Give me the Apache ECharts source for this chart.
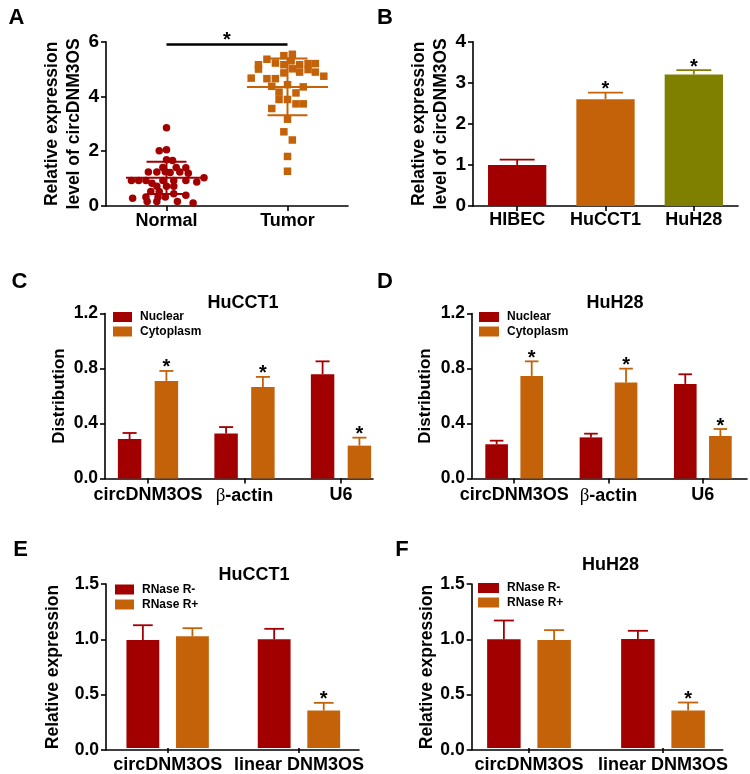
<!DOCTYPE html>
<html><head><meta charset="utf-8">
<script src="https://cdn.jsdelivr.net/npm/echarts@6/dist/echarts.min.js"></script>
<style>html,body{margin:0;padding:0;background:#fff}#c{width:750px;height:774px}</style>
</head><body><div id="c"></div>
<script>
// ---------------- DATA ----------------
// Panel A: [jitter offset from group centre (axis units), value]
const groupsA = ['Normal', 'Tumor'];
const normalPoints = [
  [0, 2.86], [-0.06, 2.02], [0, 2.05], [0, 1.69], [0.05, 1.66], [-0.03, 1.41], [0.08, 1.41], [0.16, 1.40],
  [-0.15, 1.24], [-0.08, 1.24], [-0.01, 1.25], [0.03, 1.22], [0.11, 1.24], [0.18, 1.20],
  [-0.29, 0.93], [-0.23, 0.93], [-0.17, 0.93], [-0.12, 0.83], [-0.03, 0.93], [0.06, 0.93], [0.16, 0.93], [0.25, 0.88], [0.31, 1.03],
  [-0.08, 0.72], [0, 0.72], [0.06, 0.72], [-0.06, 0.53], [-0.13, 0.53], [0.06, 0.45],
  [-0.17, 0.33], [-0.07, 0.33], [-0.01, 0.33], [0.16, 0.39], [-0.28, 0.28],
  [-0.16, 0.16], [-0.08, 0.16], [0.09, 0.16], [0.22, 0.11]
];
const tumorPoints = [
  [-0.24, 5.16], [-0.24, 5.00], [-0.17, 5.36], [-0.10, 5.22], [-0.03, 5.49], [0.04, 5.54], [0.03, 5.30],
  [-0.03, 5.16], [-0.03, 4.86], [0.04, 5.01], [0.10, 5.16], [0.10, 4.89], [0.17, 5.20], [0.17, 4.98],
  [0.23, 5.20], [0.23, 4.89], [0.30, 4.74], [-0.30, 4.67], [-0.17, 4.65], [-0.10, 4.65], [-0.13, 4.37],
  [0, 4.43], [0.13, 4.35], [-0.07, 4.16], [0.07, 4.13], [-0.07, 3.89], [0, 3.89], [0.07, 3.73], [0.13, 3.73],
  [-0.13, 3.56], [0, 3.17], [-0.03, 2.71], [0.04, 2.41], [0, 1.81], [0, 1.27]
];
const meanA = [1.03, 4.35];
const sdA = [0.59, 1.04];
const sigLevelA = 5.9;

// Panel B
const cellLinesB = ['HIBEC', 'HuCCT1', 'HuH28'];
const valuesB = [1.00, 2.60, 3.20];
const errorsB = [0.13, 0.16, 0.11];
const starsB = [0, 1, 1];

// Panels C / D
const genesCD = ['circDNM3OS', 'β-actin', 'U6'];
const nuclearC = [0.287, 0.328, 0.758];
const nuclearErrC = [0.044, 0.046, 0.094];
const cytoC = [0.710, 0.666, 0.239];
const cytoErrC = [0.072, 0.073, 0.058];
const nuclearD = [0.249, 0.299, 0.688];
const nuclearErrD = [0.026, 0.027, 0.070];
const cytoD = [0.746, 0.698, 0.309];
const cytoErrD = [0.106, 0.101, 0.051];
const starsCyto = [1, 1, 1];
const starsNone3 = [0, 0, 0];

// Panels E / F
const transcriptsEF = ['circDNM3OS', 'linear DNM3OS'];
const minusE = [0.988, 0.994];
const minusErrE = [0.135, 0.096];
const plusE = [1.021, 0.343];
const plusErrE = [0.075, 0.070];
const minusF = [0.994, 0.997];
const minusErrF = [0.172, 0.075];
const plusF = [0.988, 0.343];
const plusErrF = [0.090, 0.073];
const starsPlus = [0, 1];
const starsNone2 = [0, 0];

// ---------------- STYLE ----------------
const FONT = '"Liberation Sans", Arial, Helvetica, sans-serif';
const RED = '#A20000';
const ORANGE = '#C4620A';
const OLIVE = '#808000';
const AX = {color: '#000', width: 1.6};

const option = {animation: false, backgroundColor: '#fff', grid: [], xAxis: [], yAxis: [], series: [], legend: [], graphic: []};

function txt(text, x, y, size, extra) {
  return Object.assign({type: 'text', x: 0, y: 0, silent: true, style: {
    text, x, y, fill: '#000', font: `bold ${size}px ${FONT}`,
    textAlign: 'center', align: 'center', textVerticalAlign: 'middle', verticalAlign: 'middle'}}, extra || {});
}

function errSeries(xi, yi, data, k, n, bwFrac, gapFrac, color) {
  return {
    type: 'custom', xAxisIndex: xi, yAxisIndex: yi, data, z: 5, silent: true,
    renderItem(params, api) {
      const cat = api.value(0), v = api.value(1), e = api.value(2), star = api.value(3);
      const band = api.size([1, 0])[0];
      const bw = band * bwFrac, gap = bw * gapFrac;
      const total = n * bw + (n - 1) * gap;
      const cx = api.coord([cat, 0])[0] - total / 2 + bw / 2 + k * (bw + gap);
      const y1 = api.coord([cat, v])[1], y2 = api.coord([cat, v + e])[1];
      const half = bw * 0.3;
      const ls = {stroke: color, lineWidth: 1.8};
      const children = [
        {type: 'line', shape: {x1: cx, y1: y1, x2: cx, y2: y2}, style: ls},
        {type: 'line', shape: {x1: cx - half, y1: y2, x2: cx + half, y2: y2}, style: ls}
      ];
      if (star) children.push({type: 'text', style: {text: '*', x: cx, y: y2 - 3, fill: '#000',
        font: `bold 20px ${FONT}`, textAlign: 'center', align: 'center', textVerticalAlign: 'middle', verticalAlign: 'middle'}});
      return {type: 'group', children};
    }
  };
}

function yAxisBase(c, gridIndex) {
  return {
    gridIndex, type: 'value', min: c.yMin, max: c.yMax, interval: c.yInt,
    axisLine: {show: true, onZero: false, lineStyle: AX},
    axisTick: {show: true, inside: false, length: 5, lineStyle: AX},
    axisLabel: {color: '#000', fontFamily: FONT, fontWeight: 'bold', fontSize: c.tickFont, margin: 7,
      formatter: v => v.toFixed(c.dec)},
    splitLine: {show: false},
    name: c.yName, nameLocation: 'middle', nameGap: c.nameGap, nameRotate: 90,
    nameTextStyle: {color: '#000', fontFamily: FONT, fontWeight: 'bold', fontSize: c.nameFont, lineHeight: c.nameLH}
  };
}

// ---------- Panel A ----------
(function () {
  const g = option.grid.length;
  option.grid.push({left: 106, top: 41.7, width: 242, height: 164.3});
  const xi = option.xAxis.length;
  option.xAxis.push({gridIndex: g, type: 'value', min: -0.5, max: 1.5,
    axisLine: {show: true, onZero: false, lineStyle: AX},
    axisTick: {show: true, length: 5, lineStyle: AX, customValues: [0, 1]},
    axisLabel: {customValues: [0, 1], color: '#000', fontFamily: FONT, fontWeight: 'bold', fontSize: 18, margin: 6,
      formatter: v => groupsA[Math.round(v)]},
    splitLine: {show: false}});
  const yi = option.yAxis.length;
  option.yAxis.push(yAxisBase({yMin: 0, yMax: 6, yInt: 2, dec: 0, tickFont: 19, nameFont: 17.5, nameLH: 21.5,
    yName: 'Relative expression\nlevel of circDNM3OS', nameGap: 20}, g));
  option.series.push({type: 'scatter', xAxisIndex: xi, yAxisIndex: yi, symbol: 'circle', symbolSize: 7.5,
    itemStyle: {color: RED, opacity: 1}, data: normalPoints.map(p => [0 + p[0], p[1]]), z: 3});
  option.series.push({type: 'scatter', xAxisIndex: xi, yAxisIndex: yi, symbol: 'rect', symbolSize: 7.5,
    itemStyle: {color: ORANGE, opacity: 1}, data: tumorPoints.map(p => [1 + p[0], p[1]]), z: 3});
  const colorsA = [RED, ORANGE];
  option.series.push({type: 'custom', xAxisIndex: xi, yAxisIndex: yi, z: 4, silent: true,
    data: meanA.map((m, i) => [i, m, sdA[i]]),
    renderItem(params, api) {
      const i = api.value(0), m = api.value(1), s = api.value(2);
      const unit = api.size([1, 0])[0];
      const c = api.coord([i, m]);
      const yHi = api.coord([i, m + s])[1], yLo = api.coord([i, m - s])[1];
      const st = {stroke: colorsA[params.dataIndex], lineWidth: 2};
      const wm = unit * 0.335, ws = unit * 0.165;
      return {type: 'group', children: [
        {type: 'line', shape: {x1: c[0] - wm, y1: c[1], x2: c[0] + wm, y2: c[1]}, style: st},
        {type: 'line', shape: {x1: c[0], y1: yHi, x2: c[0], y2: yLo}, style: st},
        {type: 'line', shape: {x1: c[0] - ws, y1: yHi, x2: c[0] + ws, y2: yHi}, style: st},
        {type: 'line', shape: {x1: c[0] - ws, y1: yLo, x2: c[0] + ws, y2: yLo}, style: st}
      ]};
    }});
  option.series.push({type: 'custom', xAxisIndex: xi, yAxisIndex: yi, z: 4, silent: true,
    data: [[0, 1, sigLevelA]],
    renderItem(params, api) {
      const a = api.coord([api.value(0), api.value(2)]);
      const b = api.coord([api.value(1), api.value(2)]);
      return {type: 'group', children: [
        {type: 'line', shape: {x1: a[0], y1: a[1], x2: b[0], y2: b[1]}, style: {stroke: '#000', lineWidth: 2.5}},
        {type: 'text', style: {text: '*', x: (a[0] + b[0]) / 2, y: a[1] - 4, fill: '#000', font: `bold 20px ${FONT}`,
          textAlign: 'center', align: 'center', textVerticalAlign: 'middle', verticalAlign: 'middle'}}
      ]};
    }});
})();

// ---------- Panel B ----------
(function () {
  const g = option.grid.length;
  option.grid.push({left: 473, top: 41.7, width: 265, height: 164.3});
  const xi = option.xAxis.length;
  option.xAxis.push({gridIndex: g, type: 'category', data: cellLinesB,
    axisLine: {show: true, lineStyle: AX},
    axisTick: {show: true, alignWithLabel: true, length: 5, lineStyle: AX},
    axisLabel: {interval: 0, color: '#000', fontFamily: FONT, fontWeight: 'bold', fontSize: 18, margin: 5},
    splitLine: {show: false}});
  const yi = option.yAxis.length;
  option.yAxis.push(yAxisBase({yMin: 0, yMax: 4, yInt: 1, dec: 0, tickFont: 19, nameFont: 17.5, nameLH: 21.5,
    yName: 'Relative expression\nlevel of circDNM3OS', nameGap: 19}, g));
  const colorsB = [RED, ORANGE, OLIVE];
  option.series.push({type: 'bar', xAxisIndex: xi, yAxisIndex: yi, barWidth: '66%',
    data: valuesB.map((v, i) => ({value: v, itemStyle: {color: colorsB[i]}}))});
  const s = errSeries(xi, yi, valuesB.map((v, i) => [i, v, errorsB[i], starsB[i]]), 0, 1, 0.66, 0, RED);
  const base = s.renderItem;
  s.renderItem = function (params, api) {
    const out = base(params, api);
    const col = colorsB[params.dataIndex];
    out.children[0].style.stroke = col; out.children[1].style.stroke = col;
    return out;
  };
  option.series.push(s);
})();

// ---------- Bar panels C–F ----------
function addBarPanel(c) {
  const gF = option.grid.length;
  option.grid.push({left: c.axisL, top: c.top, width: c.axisR - c.axisL, height: c.h});
  const xF = option.xAxis.length;
  option.xAxis.push({gridIndex: gF, type: 'value', min: 0, max: 1,
    axisLine: {show: true, onZero: false, lineStyle: AX}, axisTick: {show: false}, axisLabel: {show: false}, splitLine: {show: false}});
  const yF = option.yAxis.length;
  option.yAxis.push(yAxisBase(c, gF));
  const gD = option.grid.length;
  option.grid.push({left: c.dataL, top: c.top, width: c.dataW, height: c.h});
  const xD = option.xAxis.length;
  option.xAxis.push({gridIndex: gD, type: 'category', data: c.cats,
    axisLine: {show: false}, axisTick: {show: true, alignWithLabel: true, length: 5, lineStyle: AX},
    axisLabel: {interval: 0, color: '#000', fontFamily: FONT, fontWeight: 'bold', fontSize: 18, margin: 8,
      formatter: v => v.indexOf('β') === 0 ? '{g|β}' + v.slice(1) : v,
      rich: {g: {fontFamily: '"Liberation Serif", "DejaVu Serif", serif', fontWeight: 'normal', fontSize: 19, color: '#000'}}},
    splitLine: {show: false}});
  const yD = option.yAxis.length;
  option.yAxis.push({gridIndex: gD, type: 'value', min: c.yMin, max: c.yMax, show: false});
  c.series.forEach(s => {
    option.series.push({type: 'bar', name: s.name, xAxisIndex: xD, yAxisIndex: yD, data: s.values,
      barWidth: (c.bw * 100) + '%', barGap: (c.gap * 100) + '%', itemStyle: {color: s.color}, z: 2});
  });
  c.series.forEach((s, k) => {
    option.series.push(errSeries(xD, yD, s.values.map((v, i) => [i, v, s.errs[i], s.stars[i]]),
      k, c.series.length, c.bw, c.gap, s.color));
  });
  option.legend.push({data: c.series.map(s => s.name), orient: 'vertical', left: c.legL, top: c.legT, padding: 0,
    itemWidth: c.legW, itemHeight: c.legH, itemGap: c.legGap, icon: 'rect', selectedMode: false,
    textStyle: {color: '#000', fontFamily: FONT, fontWeight: 'bold', fontSize: 12, lineHeight: 14, padding: [0, 0, 0, 3]}});
  option.graphic.push(txt(c.title, c.titleX, c.titleY, 18));
}

addBarPanel({axisL: 105, axisR: 373, top: 313.5, h: 165, dataL: 99.75, dataW: 289.5, cats: genesCD,
  yMin: 0, yMax: 1.2, yInt: 0.4, dec: 1, tickFont: 17.5, nameFont: 17, nameLH: 17, yName: 'Distribution', nameGap: 37,
  bw: 0.243, gap: 0.57,
  series: [{name: 'Nuclear', values: nuclearC, errs: nuclearErrC, stars: starsNone3, color: RED},
           {name: 'Cytoplasm', values: cytoC, errs: cytoErrC, stars: starsCyto, color: ORANGE}],
  legL: 113, legT: 310, legW: 19, legH: 10, legGap: 0.5, title: 'HuCCT1', titleX: 243, titleY: 303.5});

addBarPanel({axisL: 472, axisR: 747, top: 313.5, h: 165, dataL: 467, dataW: 288, cats: genesCD,
  yMin: 0, yMax: 1.2, yInt: 0.4, dec: 1, tickFont: 17.5, nameFont: 17, nameLH: 17, yName: 'Distribution', nameGap: 38,
  bw: 0.24, gap: 0.55,
  series: [{name: 'Nuclear', values: nuclearD, errs: nuclearErrD, stars: starsNone3, color: RED},
           {name: 'Cytoplasm', values: cytoD, errs: cytoErrD, stars: starsCyto, color: ORANGE}],
  legL: 479, legT: 310, legW: 20, legH: 10, legGap: 0.5, title: 'HuH28', titleX: 615, titleY: 303.5});

addBarPanel({axisL: 106, axisR: 359, top: 584, h: 166, dataL: 102, dataW: 262.6, cats: transcriptsEF,
  yMin: 0, yMax: 1.5, yInt: 0.5, dec: 1, tickFont: 17.5, nameFont: 17.5, nameLH: 17.5, yName: 'Relative expression', nameGap: 44,
  bw: 0.25, gap: 0.51,
  series: [{name: 'RNase R-', values: minusE, errs: minusErrE, stars: starsNone2, color: RED},
           {name: 'RNase R+', values: plusE, errs: plusErrE, stars: starsPlus, color: ORANGE}],
  legL: 115, legT: 582.5, legW: 19, legH: 10, legGap: 1, title: 'HuCCT1', titleX: 254, titleY: 575.5});

addBarPanel({axisL: 471.7, axisR: 722.7, top: 584, h: 166, dataL: 462, dataW: 268, cats: transcriptsEF,
  yMin: 0, yMax: 1.5, yInt: 0.5, dec: 1, tickFont: 17.5, nameFont: 17.5, nameLH: 17.5, yName: 'Relative expression', nameGap: 35,
  bw: 0.25, gap: 0.5,
  series: [{name: 'RNase R-', values: minusF, errs: minusErrF, stars: starsNone2, color: RED},
           {name: 'RNase R+', values: plusF, errs: plusErrF, stars: starsPlus, color: ORANGE}],
  legL: 478, legT: 581, legW: 21, legH: 10, legGap: 0.5, title: 'HuH28', titleX: 610.5, titleY: 565});

// Panel letters
[['A', 16.5, 17.5], ['B', 385, 17.5], ['C', 19.5, 282], ['D', 385, 282], ['E', 20.5, 550], ['F', 402, 550]]
  .forEach(l => option.graphic.push(txt(l[0], l[1], l[2], 22)));

const chart = echarts.init(document.getElementById('c'), null, {renderer: 'canvas'});
chart.setOption(option);
</script>
</body></html>
